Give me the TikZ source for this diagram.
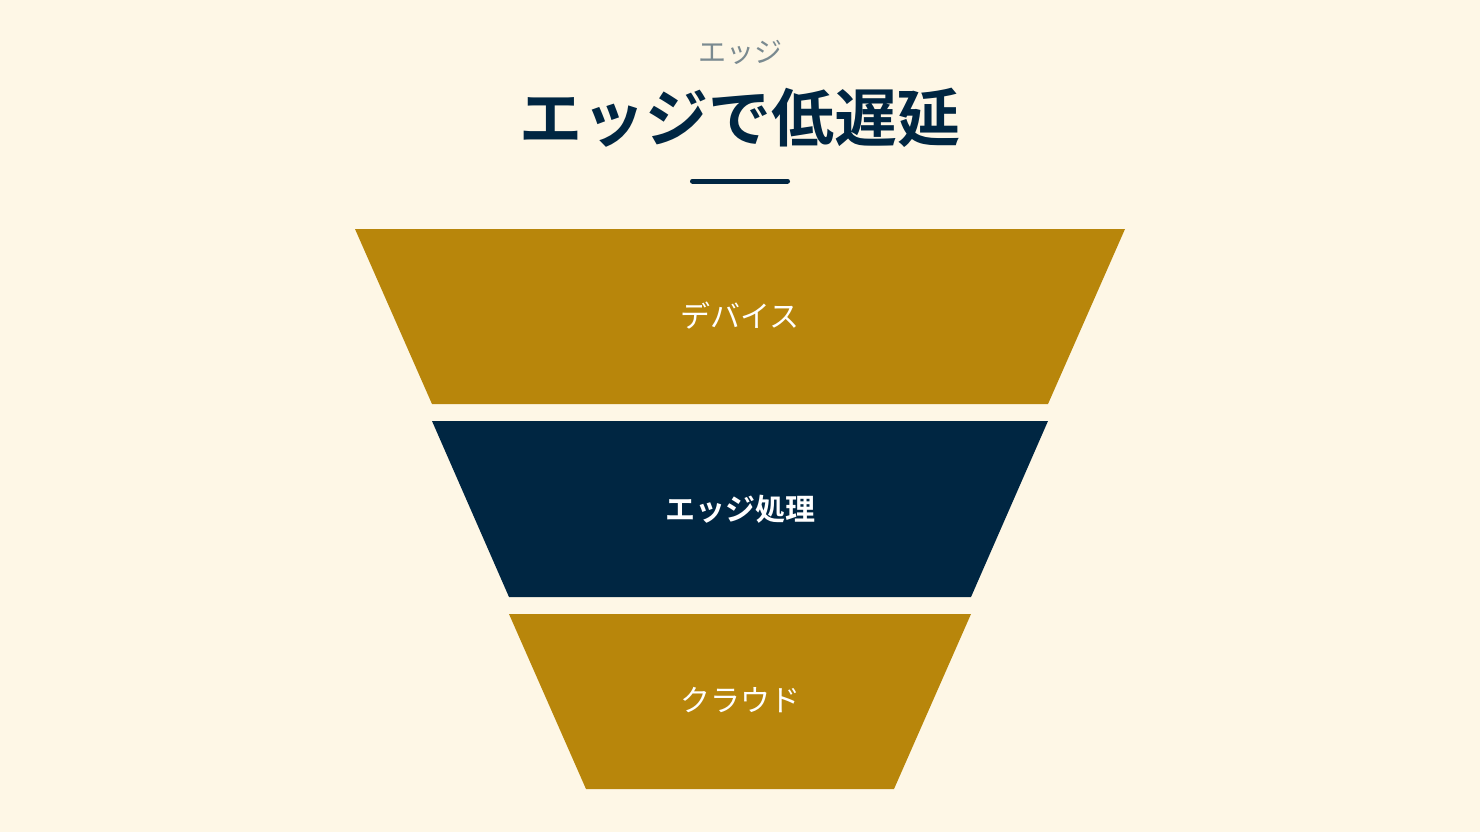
\documentclass[tikz,border=0pt]{standalone}
\usepackage{fontspec}
\setmainfont{Noto Sans CJK JP}
\newfontfamily\jpbold{Noto Sans CJK JP Bold}
\usepackage{tikz}
\definecolor{cream}{HTML}{FEF7E6}
\definecolor{gold}{HTML}{B8860B}
\definecolor{navy}{HTML}{002642}
\definecolor{slate}{HTML}{7A8A90}

\begin{document}
\begin{tikzpicture}[x=1pt,y=-1pt,
    label/.style={text=white,font=\fontsize{30}{33}\selectfont},
    bandgold/.style={fill=gold},
    bandnavy/.style={fill=navy}]
        \useasboundingbox[fill=cream] (0,0) rectangle (1480,832);

        \node[text=slate,font=\fontsize{28}{32}\selectfont] (sub) at (740, 52) {エッジ};
        \node[text=navy,font=\jpbold\fontsize{63}{68}\selectfont] (title) at (740, 118) {エッジで低遅延};
        \draw[navy,line width=5pt,line cap=round] (692.5, 181) -- (787.5, 181);

        \fill[bandgold] (355, 229) -- (1125, 229) -- (1048, 404) -- (432, 404) -- cycle;
        \fill[bandnavy] (432, 421) -- (1048, 421) -- (971, 597) -- (509, 597) -- cycle;
        \fill[bandgold] (509, 614) -- (971, 614) -- (894, 789) -- (586, 789) -- cycle;

        \node[label] (device) at (740, 316) {デバイス};
        \node[label,font=\jpbold\fontsize{30}{33}\selectfont] (edge) at (740, 509) {エッジ処理};
        \node[label] (cloud) at (740, 700) {クラウド};
      \end{tikzpicture}
\end{document}
